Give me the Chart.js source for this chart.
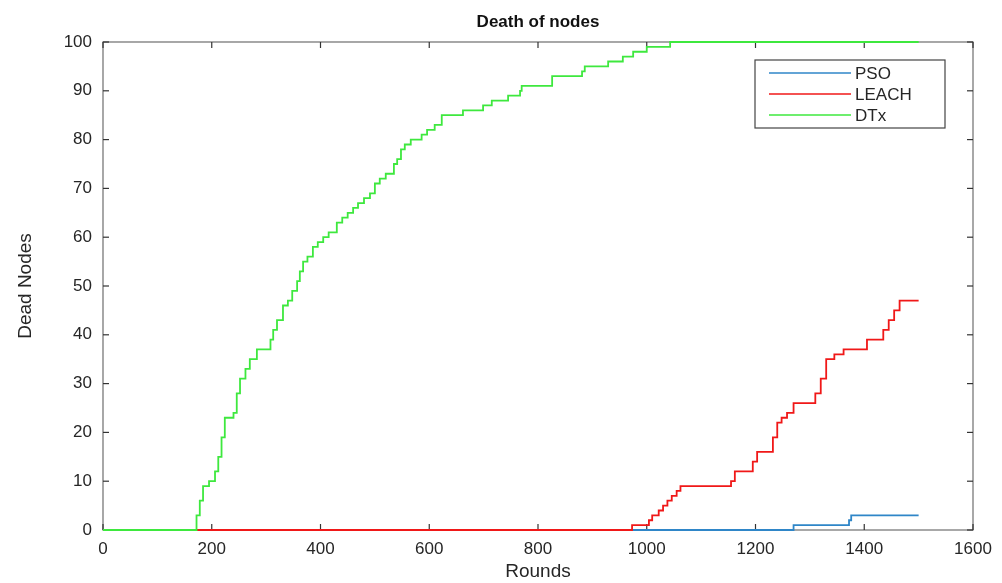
<!DOCTYPE html>
<html>
<head>
<meta charset="utf-8">
<script src="https://cdn.jsdelivr.net/npm/chart.js@4/dist/chart.umd.min.js"></script>
<style>
html,body{margin:0;padding:0;background:#fff;}
#wrap{width:1002px;height:583px;}
</style>
</head>
<body>
<div id="wrap"><canvas id="c" width="1002" height="583"></canvas></div>
<script>
const chartTitle = "Death of nodes";
const xTitle = "Rounds";
const yTitle = "Dead Nodes";
const xTicks = [0,200,400,600,800,1000,1200,1400,1600];
const yTicks = [0,10,20,30,40,50,60,70,80,90,100];
const seriesNames = ["PSO","LEACH","DTx"];

const psoRounds = [0,1265,1270,1368,1372,1376,1500];
const psoDead   = [0,0,1,1,2,3,3];

const leachRounds = [0,968,973,1000,1004,1010,1022,1030,1038,1046,1055,1062,1150,1155,1162,1190,1195,1203,1225,1232,1240,1248,1258,1270,1300,1310,1320,1330,1345,1362,1395,1405,1425,1435,1445,1455,1465,1500];
const leachDead   = [0,0,1,1,2,3,4,5,6,7,8,9,9,10,12,12,14,16,16,19,22,23,24,26,26,28,31,35,36,37,37,39,39,41,43,45,47,47];

const dtxRounds = [0,165,172,178,184,195,206,212,218,224,240,246,252,262,270,283,303,308,313,320,331,340,348,357,362,368,376,386,395,405,415,430,440,450,460,469,480,491,500,509,520,535,541,548,555,566,586,596,610,623,662,699,715,745,767,770,826,881,886,929,956,975,1000,1043,1500];
const dtxDead   = [0,0,3,6,9,10,12,15,19,23,24,28,31,33,35,37,37,39,41,43,46,47,49,51,53,55,56,58,59,60,61,63,64,65,66,67,68,69,71,72,73,75,76,78,79,80,81,82,83,85,86,87,88,89,90,91,93,94,95,96,97,98,99,100,100];

const colors = {PSO:'#2f86c8', LEACH:'#f01818', DTx:'#3ee83e'};

function pts(xs, ys){ return xs.map((x,i)=>({x:x, y:ys[i]})); }

const FONT = "'Liberation Sans', Arial, sans-serif";

const framePlugin = {
  id:'frame',
  beforeDatasetsDraw(chart){
    const ctx = chart.ctx, a = chart.chartArea;
    const xs = chart.scales.x, ys = chart.scales.y;
    ctx.save();
    ctx.strokeStyle = '#6e6e6e';
    ctx.lineWidth = 1.2;
    ctx.strokeRect(a.left, a.top, a.right-a.left, a.bottom-a.top);
    ctx.strokeStyle = '#333';
    ctx.lineWidth = 1.2;
    const L = 6;
    xTicks.forEach(v=>{
      const p = xs.getPixelForValue(v);
      ctx.beginPath(); ctx.moveTo(p,a.bottom); ctx.lineTo(p,a.bottom-L); ctx.stroke();
      ctx.beginPath(); ctx.moveTo(p,a.top); ctx.lineTo(p,a.top+L); ctx.stroke();
    });
    yTicks.forEach(v=>{
      const p = ys.getPixelForValue(v);
      ctx.beginPath(); ctx.moveTo(a.left,p); ctx.lineTo(a.left+L,p); ctx.stroke();
      ctx.beginPath(); ctx.moveTo(a.right,p); ctx.lineTo(a.right-L,p); ctx.stroke();
    });
    ctx.restore();
  },
  afterDatasetsDraw(chart){
    const ctx = chart.ctx, a = chart.chartArea;
    ctx.save();
    ctx.fillStyle = '#111';
    ctx.textAlign = 'center';
    ctx.textBaseline = 'middle';
    ctx.font = "bold 17px " + FONT;
    ctx.fillText(chartTitle, (a.left+a.right)/2, 22);
    ctx.fillStyle = '#262626';
    ctx.font = "19px " + FONT;
    ctx.fillText(xTitle, (a.left+a.right)/2, 572);
    ctx.save();
    ctx.translate(26, (a.top+a.bottom)/2);
    ctx.rotate(-Math.PI/2);
    ctx.fillText(yTitle, 0, 0);
    ctx.restore();
    // legend
    const lx = 755, ly = 60, lw = 190, lh = 68;
    ctx.fillStyle = '#fff';
    ctx.fillRect(lx, ly, lw, lh);
    ctx.strokeStyle = '#444';
    ctx.lineWidth = 1.2;
    ctx.strokeRect(lx, ly, lw, lh);
    ctx.font = "17px " + FONT;
    ctx.textAlign = 'left';
    seriesNames.forEach((n,i)=>{
      const y = ly + 13 + i*21;
      ctx.strokeStyle = colors[n];
      ctx.lineWidth = 1.6;
      ctx.beginPath(); ctx.moveTo(lx+14, y); ctx.lineTo(lx+96, y); ctx.stroke();
      ctx.fillStyle = '#262626';
      ctx.fillText(n, lx+100, y+1);
    });
    ctx.restore();
  }
};

const datasets = [
  {label:'DTx', data:pts(dtxRounds, dtxDead), borderColor:colors.DTx},
  {label:'LEACH', data:pts(leachRounds, leachDead), borderColor:colors.LEACH},
  {label:'PSO', data:pts(psoRounds, psoDead), borderColor:colors.PSO}
].map(d=>Object.assign(d,{stepped:true, borderWidth:1.8, pointRadius:0, fill:false, tension:0, clip:false}));

new Chart(document.getElementById('c'), {
  type:'line',
  data:{datasets:datasets},
  options:{
    responsive:false,
    animation:false,
    layout:{padding:{left:0, right:29, top:42, bottom:0}},
    plugins:{legend:{display:false}, title:{display:false}, tooltip:{enabled:false}},
    scales:{
      x:{
        type:'linear', min:0, max:1600,
        afterBuildTicks(s){ s.ticks = xTicks.map(v=>({value:v})); },
        afterFit(s){ s.height = 53; },
        grid:{display:false, drawTicks:false},
        border:{display:false},
        ticks:{padding:9, color:'#262626', font:{family:FONT, size:17}, maxRotation:0, autoSkip:false, callback:v=>String(v)}
      },
      y:{
        type:'linear', min:0, max:100,
        afterBuildTicks(s){ s.ticks = yTicks.map(v=>({value:v})); },
        afterFit(s){ s.width = 103; },
        grid:{display:false, drawTicks:false},
        border:{display:false},
        ticks:{padding:11, color:'#262626', font:{family:FONT, size:17}, autoSkip:false, callback:v=>String(v)}
      }
    }
  },
  plugins:[framePlugin]
});
</script>
</body>
</html>
